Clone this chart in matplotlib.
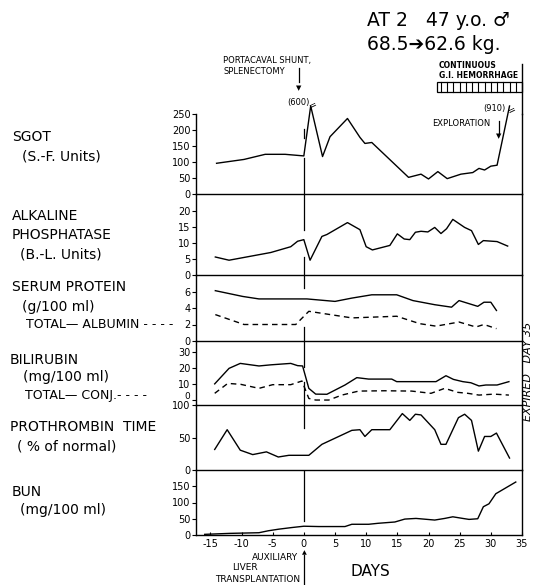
import matplotlib.pyplot as plt
import matplotlib.transforms as mtransforms
import numpy as np

plt.rcParams["axes.unicode_minus"] = False

# ---- data ----
sgot_days = [-14, -9.6, -6.2, -3, 0, 1.1, 3, 4.2, 7, 9, 9.8, 10.9, 16.8, 18.8,
             20, 21.5, 23, 25.2, 27.1, 28.1, 29, 30, 31, 33]
sgot_vals = [96, 108, 124, 124, 119, 600, 117, 179, 236, 177, 158, 161, 52, 62,
             47, 70, 48, 62, 67, 80, 75, 87, 90, 910]

alk_days = [-14.2, -12, -5.3, -2.1, -1, 0, 1, 2.9, 3.7, 7, 9, 10, 11, 13.8, 15,
            16.1, 17, 17.9, 18.8, 19.9, 21, 22, 22.9, 23.9, 25.8, 26.9, 28,
            28.8, 31, 32.7]
alk_vals = [5.6, 4.6, 7, 8.8, 10.5, 11, 4.6, 12, 12.6, 16.3, 14.1, 8.8, 7.8, 9.2,
            12.8, 11.2, 11, 13.3, 13.6, 13.4, 14.8, 12.9, 14.4, 17.3, 14.8, 13.8,
            9.5, 10.7, 10.4, 9]

prot_days = [-14.2, -9.8, -7.2, -1.6, 0.5, 5, 7.7, 10.9, 14.9, 17.5, 21, 23.7,
             24.9, 27.9, 28.9, 30, 30.9]
prot_total = [6.1, 5.4, 5.1, 5.1, 5.1, 4.8, 5.2, 5.6, 5.6, 4.9, 4.4, 4.1, 4.9,
              4.2, 4.7, 4.7, 3.7]
alb_days = [-14.2, -9.6, -1.3, 0.8, 7.7, 14.9, 18.6, 21.2, 24.9, 27.6, 28.9, 30.9]
alb_vals = [3.2, 2.0, 2.0, 3.6, 2.8, 3.0, 2.1, 1.8, 2.3, 1.7, 2.0, 1.5]

bili_days = [-14.3, -12, -10.2, -7.2, -5.3, -2.1, -1, -0.2, 0.8, 1.9, 3.7, 6.6,
             8.5, 10.4, 14.1, 14.9, 21.2, 22.8, 24, 25.5, 26.8, 28.1, 29.2, 31,
             32.9]
bili_total = [10.1, 19.8, 22.9, 21.3, 22, 22.9, 21.5, 21.3, 7.3, 3.7, 3.6, 9.4,
              14, 13.1, 13.1, 11.5, 11.5, 15.2, 12.9, 11.5, 10.8, 8.8, 9.4, 9.4,
              11.5]
conj_days = [-14.3, -12.2, -10.1, -7.2, -5, -2.1, -0.3, 0.8, 1.9, 4, 6.1, 8.8,
             13, 17.3, 20.4, 22.6, 24.7, 26.3, 28.1, 30.5, 32.9]
conj_vals = [4.2, 10.4, 9.8, 7.3, 9.6, 9.6, 11.9, 1.0, 0, 0, 3.1, 5.6, 5.8, 5.6,
             4.2, 7.3, 4.8, 4.2, 3.1, 3.7, 3.1]

pt_days = [-14.3, -12.3, -10.2, -8.2, -6, -4.1, -2.4, 0.8, 2.9, 7.7, 9, 9.8,
           10.9, 13.8, 15.8, 17, 17.9, 18.8, 21, 22, 22.8, 24.8, 25.8, 26.9, 28,
           29, 30, 30.9, 33]
pt_vals = [31.6, 62, 30.5, 23.7, 27.9, 20, 22.6, 22.6, 39.5, 61, 62, 51.6, 62,
           62, 86.8, 76.3, 85.8, 84.7, 62, 39.5, 39.5, 80.5, 85.8, 76.3, 29,
           51.6, 51.6, 56.8, 18.4]

bun_days = [-15.9, -11.9, -7.2, -5.7, -4, -1.9, 0, 2.4, 6.6, 7.7, 10.4, 11.9,
            14.6, 16.2, 18, 21, 22.6, 23.9, 25.5, 26.5, 27.9, 28.8, 29.7, 30.8,
            34]
bun_vals = [2, 5, 7, 13, 18, 23, 27, 26, 26, 33, 33, 36, 40, 49, 51, 46, 51, 56,
            51, 48, 50, 87, 96, 127, 163]

day_ticks = list(range(-15, 36, 5))

W, H = 533, 585


def fx(x):
    return x / W


def fy(y):
    return 1 - y / H


def main():
    fig = plt.figure(figsize=(W / 100, H / 100), dpi=100)

    left, right = 196, 522
    # (top px, bottom px, ylim, yticks)
    panels = [
        (114, 194, (0, 250), [0, 50, 100, 150, 200, 250]),
        (194, 275, (0, 25.2), [0, 5, 10, 15, 20]),
        (275, 341, (0, 8.0), [0, 2, 4, 6]),
        (341, 405, (-3.1, 36.9), [0, 10, 20, 30]),
        (405, 470, (0, 100), [0, 50, 100]),
        (470, 535, (0, 200), [0, 50, 100, 150]),
    ]
    axes = []
    for top, bot, ylim, yt in panels:
        ax = fig.add_axes([fx(left), fy(bot), (right - left) / W, (bot - top) / H])
        ax.set_xlim(-17.3, 35)
        ax.set_ylim(*ylim)
        ax.set_yticks(yt)
        ax.spines["top"].set_visible(False)
        for s in ax.spines.values():
            s.set_linewidth(1.0)
        ax.tick_params(axis="y", direction="out", length=3, pad=1, labelsize=7,
                       width=0.8)
        ax.tick_params(axis="x", length=0, labelbottom=False)
        ax.patch.set_alpha(0)
        axes.append(ax)
    ax_sgot, ax_alk, ax_prot, ax_bili, ax_pt, ax_bun = axes

    # bilirubin "0" is squeezed up above the prothrombin "100" in the original
    fig.canvas.draw()
    lab0 = ax_bili.get_yticklabels()[0]
    lab0.set_transform(lab0.get_transform() +
                       mtransforms.ScaledTranslation(0, 3 / 72, fig.dpi_scale_trans))
    lab0.set_fontsize(6.5)

    ax_bun.set_xticks(day_ticks)
    ax_bun.tick_params(axis="x", direction="in", length=2, labelbottom=True,
                       labelsize=7, pad=3)

    lw = 1.0
    k = "black"
    ax_sgot.plot(sgot_days, np.minimum(sgot_vals, 275), color=k, lw=lw,
                 clip_on=False)
    ax_alk.plot(alk_days, alk_vals, color=k, lw=lw)
    ax_prot.plot(prot_days, prot_total, color=k, lw=lw)
    ax_prot.plot(alb_days, alb_vals, color=k, lw=lw, ls=(0, (4, 3)))
    ax_bili.plot(bili_days, bili_total, color=k, lw=lw)
    ax_bili.plot(conj_days, conj_vals, color=k, lw=lw, ls=(0, (4, 3)))
    ax_pt.plot(pt_days, pt_vals, color=k, lw=lw)
    ax_bun.plot(bun_days, bun_vals, color=k, lw=lw)

    # day-0 marker line, broken where it meets the curves
    segs = [
        (ax_sgot, [(0, 0.45), (0.70, 0.81)]),
        (ax_alk, [(0, 0.22), (0.55, 1)]),
        (ax_prot, [(0, 0.21), (0.81, 1)]),
        (ax_bili, [(0, 0.36), (0.59, 1)]),
        (ax_pt, [(0.65, 1)]),
        (ax_bun, [(0.22, 1)]),
    ]
    for ax, parts in segs:
        for a, b in parts:
            ax.axvline(0, a, b, color=k, lw=0.9)

    # right border extends up past the hemorrhage box
    fig.add_artist(plt.Line2D([fx(522), fx(522)], [fy(114), fy(64)], color=k,
                              lw=1.0))

    # hemorrhage box
    tr = mtransforms.blended_transform_factory(ax_sgot.transData, fig.transFigure)
    x0, x1 = 21.3, 35
    yb, yt_ = fy(92), fy(82)
    ax_sgot.add_patch(plt.Rectangle((x0, yb), x1 - x0, yt_ - yb, fill=False,
                                    lw=0.9, ec=k, transform=tr, clip_on=False))
    for d in range(22, 35):
        ax_sgot.add_line(plt.Line2D([d, d], [yb, yt_], color=k, lw=0.8,
                                    transform=tr, clip_on=False))
    fig.text(fx(439), fy(65), "CONTINUOUS", fontsize=5.5, va="center",
             fontweight="bold")
    fig.text(fx(439), fy(76), "G.I. HEMORRHAGE", fontsize=5.5, va="center",
             fontweight="bold")

    # titles
    fig.text(fx(367), fy(20), "AT 2   47 y.o. \u2642", fontsize=13.5, va="center")
    fig.text(fx(367), fy(44), "68.5\u279462.6 kg.", fontsize=13.5, va="center",
             family=["DejaVu Sans"])

    # annotations
    fig.text(fx(223), fy(60), "PORTACAVAL SHUNT,", fontsize=6, va="center")
    fig.text(fx(223), fy(72), "SPLENECTOMY", fontsize=6, va="center")
    fig.add_artist(plt.Line2D([fx(299), fx(299)], [fy(68), fy(82)], color=k,
                              lw=0.9))
    fig.text(fx(299), fy(88), "\u25bc", fontsize=5, ha="center", va="center")
    fig.text(fx(310), fy(103), "(600)", fontsize=6, ha="right", va="center")
    fig.text(fx(313), fy(105), "=", fontsize=7, ha="center", va="center",
             rotation=25)
    fig.text(fx(506), fy(108), "(910)", fontsize=6, ha="right", va="center")
    fig.text(fx(512), fy(110), "=", fontsize=7, ha="center", va="center",
             rotation=25)
    fig.text(fx(432), fy(124), "EXPLORATION", fontsize=6, va="center")
    fig.add_artist(plt.Line2D([fx(499), fx(499)], [fy(121), fy(133)], color=k,
                              lw=0.9))
    fig.text(fx(499), fy(136), "\u25bc", fontsize=5, ha="center", va="center")

    fig.text(fx(528), fy(371), "EXPIRED   DAY 35", fontsize=8, style="italic",
             rotation=90, ha="center", va="center")

    # left-hand labels
    labels = [
        (12, 137, "SGOT", 10), (22, 157, "(S.-F. Units)", 10),
        (12, 216, "ALKALINE", 10), (12, 235, "PHOSPHATASE", 10),
        (20, 254, "(B.-L. Units)", 10),
        (12, 287, "SERUM PROTEIN", 10), (22, 307, "(g/100 ml)", 10),
        (26, 325, "TOTAL\u2014 ALBUMIN - - - -", 9),
        (10, 360, "BILIRUBIN", 10), (23, 377, "(mg/100 ml)", 10),
        (25, 395, "TOTAL\u2014 CONJ.- - - -", 9),
        (10, 427, "PROTHROMBIN  TIME", 10), (17, 446, "( % of normal)", 10),
        (12, 492, "BUN", 10), (20, 510, "(mg/100 ml)", 10),
    ]
    for x, y, s, fs in labels:
        fig.text(fx(x), fy(y), s, fontsize=fs, va="center")

    # bottom annotations
    fig.text(fx(350), fy(572), "DAYS", fontsize=11, va="center")
    fig.text(fx(298), fy(557), "AUXILIARY", fontsize=6.5, ha="right", va="center")
    fig.text(fx(258), fy(568), "LIVER", fontsize=6.5, ha="right", va="center")
    fig.text(fx(300), fy(579), "TRANSPLANTATION", fontsize=6.5, ha="right",
             va="center")
    fig.add_artist(plt.Line2D([fx(304), fx(304)], [fy(584), fy(555)], color=k,
                              lw=0.9))
    fig.text(fx(304), fy(553), "\u25b2", fontsize=4.5, ha="center", va="center")

    fig.savefig("out.png", dpi=100, facecolor="white")


if __name__ == "__main__":
    main()
